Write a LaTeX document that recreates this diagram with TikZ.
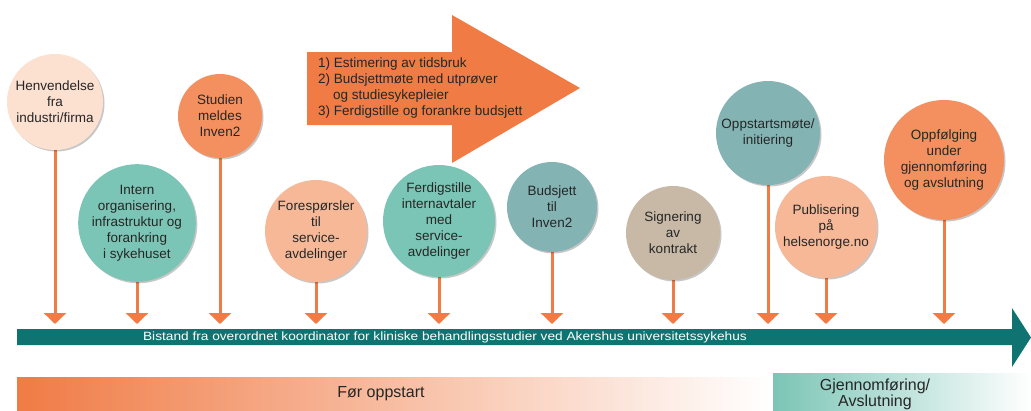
\documentclass[tikz,border=0pt]{standalone}
\usepackage{fontspec}
\setmainfont{Liberation Sans}
\usetikzlibrary{arrows.meta,shadows,backgrounds}

\definecolor{orng}{HTML}{F07B45}
\definecolor{peachlight}{HTML}{FCE0D0}
\definecolor{peach}{HTML}{F6B897}
\definecolor{coral}{HTML}{F4905F}
\definecolor{tealmid}{HTML}{7BC5B6}
\definecolor{tealgrey}{HTML}{84B3B4}
\definecolor{tan}{HTML}{C8B9A7}
\definecolor{tealdark}{HTML}{0F7471}
\definecolor{txt}{HTML}{262626}

\begin{document}
\begin{tikzpicture}[x=1pt,y=-1pt,
  stage/.style={circle, inner sep=0pt, align=center, text=txt,
    font=\fontsize{13.5}{16}\selectfont,
    drop shadow={shadow xshift=1.5pt, shadow yshift=-1.5pt, opacity=0.22, fill=black}},
  stem/.style={draw=orng, line width=3pt, -{Triangle[width=22pt,length=11pt]}},
  phase/.style={inner sep=0pt, align=center, text=txt}
]
\useasboundingbox (0,0) rectangle (1031,410);

% tips of the stems sit just above the timeline
\coordinate (base) at (0,324);

% stage circles
\node[stage, fill=peachlight, minimum size=96pt] (hen) at (55,102)
  {Henvendelse\\fra\\industri/firma};
\node[stage, fill=tealmid, minimum size=112pt] (intern) at (137,223)
  {Intern\\organisering,\\infrastruktur og\\forankring\\i sykehuset};
\node[stage, fill=coral, minimum size=84pt] (studien) at (220,116)
  {Studien\\meldes\\Inven2};
\node[stage, fill=peach, minimum size=102pt] (foresp) at (316,231)
  {Forespørsler\\til\\service-\\avdelinger};
\node[stage, fill=tealmid, minimum size=112pt] (ferdig) at (439,221)
  {Ferdigstille\\internavtaler\\med\\service-\\avdelinger};
\node[stage, fill=tealgrey, minimum size=90pt] (budsjett) at (552,207)
  {Budsjett\\til\\Inven2};
\node[stage, fill=tan, minimum size=94pt] (signer) at (673,233)
  {Signering\\av\\kontrakt};
\node[stage, fill=tealgrey, minimum size=104pt] (oppstart) at (768,133)
  {Oppstartsmøte/\\initiering};
\node[stage, fill=peach, minimum size=102pt] (publ) at (826,227)
  {Publisering\\på\\helsenorge.no};
\node[stage, fill=coral, minimum size=120pt] (oppf) at (944,160)
  {Oppfølging\\under\\gjennomføring\\og avslutning};

% stems from each stage down to the timeline
\begin{pgfonlayer}{background}
  \foreach \n in {hen,intern,studien,foresp,ferdig,budsjett,signer,oppstart,publ,oppf}
    \draw[stem] (\n.south) -- (\n.south |- base);
\end{pgfonlayer}

% budget steps arrow
\fill[orng] (307,52) -- (452,52) -- (452,15) -- (580,88) -- (452,163)
  -- (452,125) -- (307,125) -- cycle;
\node[anchor=west, align=left, text=txt, inner sep=0pt,
  font=\fontsize{13.5}{16}\selectfont] (steps) at (318,88)
  {1) Estimering av tidsbruk\\
   2) Budsjettmøte med utprøver\\
   \hspace*{15pt}og studiesykepleier\\
   3) Ferdigstille og forankre budsjett};

% timeline
\fill[tealdark] (17,329) -- (1012,329) -- (1012,308) -- (1031,337.5)
  -- (1012,367) -- (1012,345) -- (17,345) -- cycle;
\node[text=white, inner sep=0pt, xscale=1.14, font=\fontsize{12}{13}\selectfont] (line) at (445,337)
  {Bistand fra overordnet koordinator for kliniske behandlingsstudier ved Akershus universitetssykehus};

% phase bars
\shade[left color=orng, right color=white] (17,377) rectangle (770,410);
\node[phase, font=\fontsize{16}{18}\selectfont] (before) at (381,394) {Før oppstart};
\shade[left color=tealmid, right color=white] (773,373) rectangle (1031,410);
\node[phase, font=\fontsize{16}{16}\selectfont, anchor=north] (during) at (875,379)
  {Gjennomføring/\\Avslutning};
\end{tikzpicture}
\end{document}
